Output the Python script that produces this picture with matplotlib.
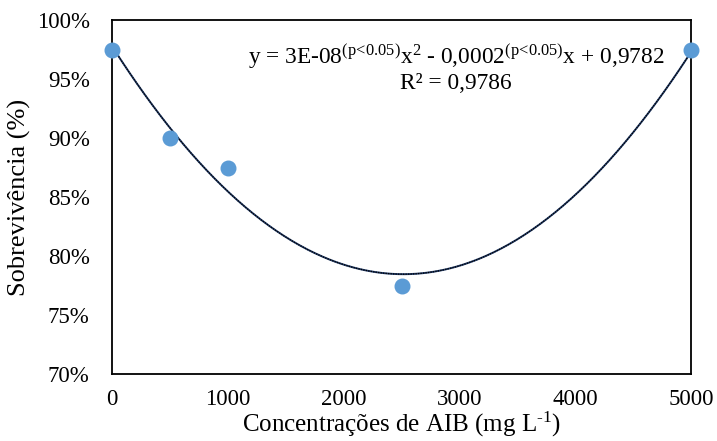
import numpy as np
import matplotlib
matplotlib.use("Agg")
import matplotlib.pyplot as plt
from matplotlib.ticker import FuncFormatter

plt.rcParams["font.family"] = ["Liberation Serif", "DejaVu Serif"]
plt.rcParams["mathtext.fontset"] = "custom"
plt.rcParams["mathtext.rm"] = "Liberation Serif"
plt.rcParams["mathtext.it"] = "Liberation Serif:italic"

# data
conc = np.array([0, 500, 1000, 2500, 5000])
surv = np.array([97.5, 90.0, 87.5, 77.5, 97.5])
x_ticks = [0, 1000, 2000, 3000, 4000, 5000]
y_ticks = [70, 75, 80, 85, 90, 95, 100]

fig = plt.figure(figsize=(7.17, 4.41), dpi=100)
ax = fig.add_axes([0.156, 0.152, 0.808, 0.802])

# second order polynomial trend line
coef = np.polyfit(conc, surv, 2)
xs = np.linspace(0, 5000, 300)
ys = np.polyval(coef, xs)
ax.plot(xs, ys, color="#1F3864", lw=1.4, zorder=2)
ax.plot(xs, ys, color="black", lw=0.9, ls=(0, (1, 1)), zorder=3)

ax.scatter(conc, surv, s=110, color="#5B9BD5", zorder=4, clip_on=False)

ax.set_xlim(0, 5000)
ax.set_ylim(70, 100)
ax.set_xticks(x_ticks)
ax.set_yticks(y_ticks)
ax.yaxis.set_major_formatter(FuncFormatter(lambda v, p: f"{v:.0f}%"))
ax.tick_params(length=0, labelsize=16.5)
ax.tick_params(axis="y", pad=16)
ax.tick_params(axis="x", pad=11)
for s in ax.spines.values():
    s.set_linewidth(1.3)

ax.set_xlabel("Concentrações de AIB (mg L$^{\\mathrm{\u2010}1}$)", fontsize=18, labelpad=0)
ax.set_ylabel("Sobrevivência (%)", fontsize=19, labelpad=4)

sup = "$^{\\mathrm{(p\\!<\\!0.05)}}$"
ax.text(0.594, 0.898,
        "y = 3E-08" + sup + "x$^{\\mathrm{2}}$ - 0,0002" + sup + "x + 0,9782",
        transform=ax.transAxes, ha="center", va="center", fontsize=16.8)
ax.text(0.594, 0.821, "R² = 0,9786", transform=ax.transAxes,
        ha="center", va="center", fontsize=16.8)

fig.savefig("out.png", dpi=100)
